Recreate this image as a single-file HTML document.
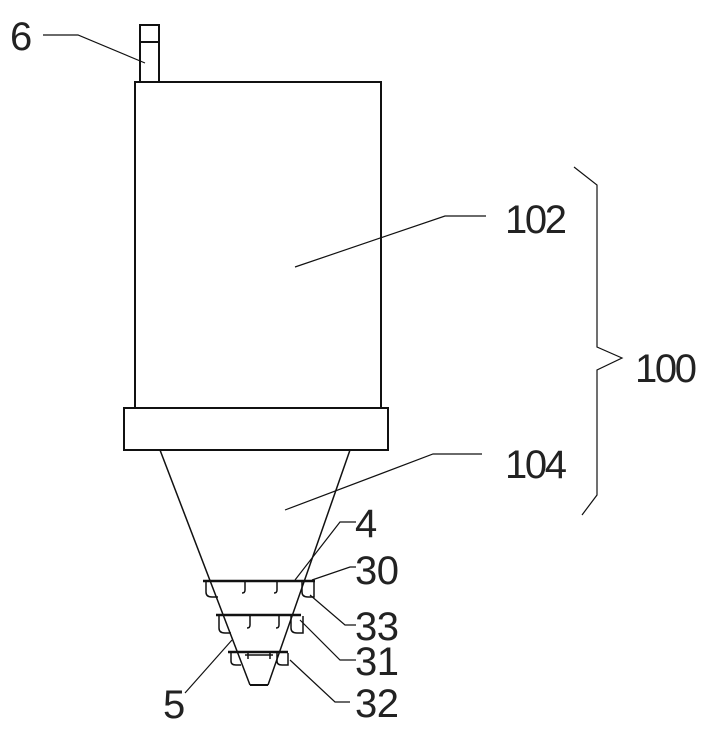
<!DOCTYPE html>
<html><head><style>body{margin:0;background:#fff}svg{display:block}text{font-family:"Liberation Sans",sans-serif;font-size:40px;fill:#222}</style></head>
<body>
<svg width="711" height="732" viewBox="0 0 711 732" xmlns="http://www.w3.org/2000/svg" fill="none" stroke="#111" stroke-width="2">
<rect x="140" y="25" width="19" height="57"/>
<line x1="140" y1="42" x2="159" y2="42"/>
<rect x="135" y="82" width="246" height="326"/>
<rect x="124" y="408" width="264" height="42"/>
<line x1="160" y1="450" x2="250" y2="685" stroke-width="1.5"/>
<line x1="350" y1="450" x2="268" y2="685" stroke-width="1.5"/>
<line x1="250" y1="685" x2="268" y2="685"/>
<line x1="245" y1="655" x2="273" y2="655" stroke-width="1.5"/>
<line x1="203" y1="581" x2="315" y2="581" stroke-width="2.5"/>
<line x1="216" y1="615" x2="301" y2="615" stroke-width="2.5"/>
<line x1="228" y1="652" x2="288" y2="652" stroke-width="2.5"/>
<path d="M206 582v10q0 5 6 5h6 M302 582v10q0 5 6 5h6v-15 M219 616v12q0 5 6 5h6 M291 616v12q0 5 6 5h6v-17 M231 653v8q0 4 5 4h5 M277 653v8q0 4 5 4h6v-12" stroke-width="1.5"/>
<path d="M245 582v8q0 3-3 3 M277 582v8q0 3-3 3 M250 616v9q0 3-3 3 M279 616v9q0 3-3 3 M248 653v6 M270 653v6" stroke-width="1.5"/>
<g stroke-width="1.2">
<polyline points="43,35 78,35 145,63"/>
<polyline points="295,267 445,216 486,216"/>
<polyline points="285,510 433,454 482,454"/>
<polyline points="574,167 597,185 597,347 622,358 597,370 597,495 582,515"/>
<polyline points="295,580 340,522 356,522"/>
<polyline points="312,580 350,567 356,567"/>
<polyline points="310,595 345,625 356,625"/>
<polyline points="300,620 340,660 356,660"/>
<polyline points="290,660 335,702 350,702"/>
<line x1="232" y1="640" x2="185" y2="693"/>
</g>
<g stroke="none">
<text x="10" y="50">6</text>
<text x="505" y="233" textLength="62">102</text>
<text x="505" y="478" textLength="62">104</text>
<text x="635" y="382" textLength="62">100</text>
<text x="355" y="537">4</text>
<text x="355" y="584" textLength="44">30</text>
<text x="355" y="640" textLength="44">33</text>
<text x="355" y="675" textLength="44">31</text>
<text x="355" y="717" textLength="44">32</text>
<text x="163" y="718">5</text>
</g>
</svg>
</body></html>
